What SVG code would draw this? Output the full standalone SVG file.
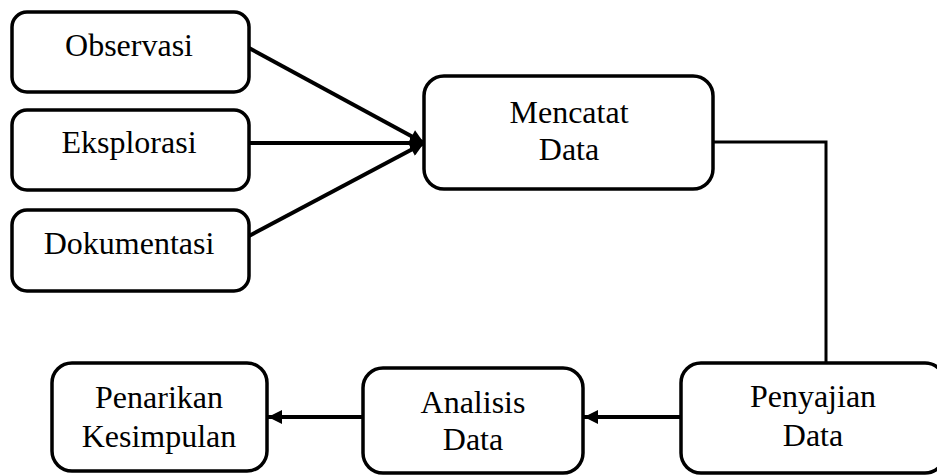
<svg xmlns="http://www.w3.org/2000/svg" width="937" height="475" viewBox="0 0 937 475">
<defs>
<style>
.box{fill:#fff;stroke:#000;stroke-width:3.5}
.lbl{font-family:'Liberation Serif','Times New Roman','DejaVu Serif',serif;font-size:32px;fill:#000;text-anchor:middle}
.con{fill:none;stroke:#000;stroke-width:4}
.thin{fill:none;stroke:#000;stroke-width:3}
</style>
<marker id="ah" viewBox="0 0 10 10" refX="10" refY="5" markerWidth="15" markerHeight="14" markerUnits="userSpaceOnUse" orient="auto">
<path d="M0,0 L10,5 L0,10 Z" fill="#000"/>
</marker>
</defs>
<rect width="937" height="475" fill="#fff"/>
<g id="connectors">
<line class="con" x1="249" y1="48" x2="424" y2="143" marker-end="url(#ah)"/>
<line class="con" x1="249" y1="143" x2="424" y2="143" marker-end="url(#ah)"/>
<line class="con" x1="249" y1="236" x2="424" y2="143" marker-end="url(#ah)"/>
<polyline class="thin" points="713,142 826,142 826,363"/>
<line class="con" x1="681" y1="417" x2="584" y2="417" marker-end="url(#ah)"/>
<line class="con" x1="363" y1="417" x2="268" y2="417" marker-end="url(#ah)"/>
</g>
<g id="observasi">
<rect class="box" x="12" y="12" width="237" height="80" rx="15"/>
<text class="lbl" x="129" y="56">Observasi</text>
</g>
<g id="eksplorasi">
<rect class="box" x="12" y="110" width="237" height="80" rx="15"/>
<text class="lbl" x="129" y="153">Eksplorasi</text>
</g>
<g id="dokumentasi">
<rect class="box" x="12" y="210" width="237" height="81" rx="15"/>
<text class="lbl" x="129" y="254">Dokumentasi</text>
</g>
<g id="mencatat">
<rect class="box" x="424" y="76" width="289" height="113" rx="20"/>
<text class="lbl" x="569" y="123">Mencatat</text>
<text class="lbl" x="569" y="160">Data</text>
</g>
<g id="penyajian">
<rect class="box" x="681" y="363" width="264" height="110" rx="20"/>
<text class="lbl" x="813" y="407">Penyajian</text>
<text class="lbl" x="813" y="446">Data</text>
</g>
<g id="analisis">
<rect class="box" x="363" y="368" width="220" height="105" rx="20"/>
<text class="lbl" x="473" y="413">Analisis</text>
<text class="lbl" x="473" y="450">Data</text>
</g>
<g id="penarikan">
<rect class="box" x="52" y="363" width="215" height="108" rx="20"/>
<text class="lbl" x="159" y="408">Penarikan</text>
<text class="lbl" x="159" y="447">Kesimpulan</text>
</g>
</svg>
